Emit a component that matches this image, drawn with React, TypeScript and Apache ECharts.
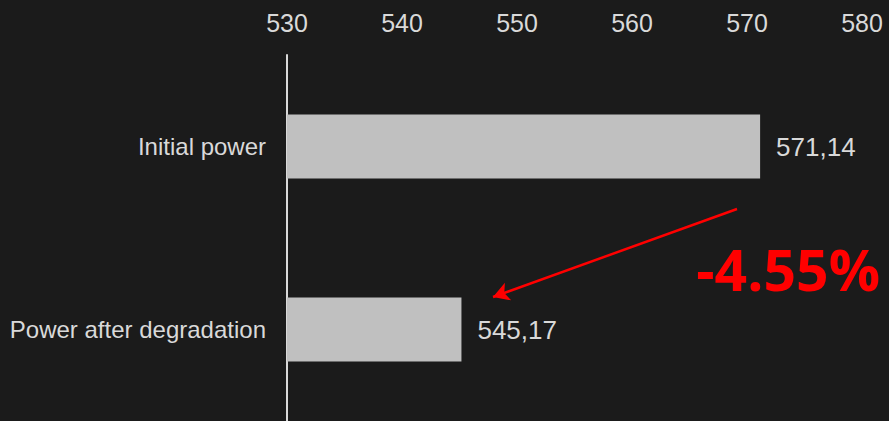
import React, { useEffect, useRef } from "react";
import * as echarts from "echarts";

const categories = ["Initial power", "Power after degradation"];
const values = [571.14, 545.17];
const axisMin = 530;
const axisMax = 580;
const axisStep = 10;
const changeLabel = "-4.55%";

export default function App() {
  const ref = useRef<HTMLDivElement>(null);
  useEffect(() => {
    if (!ref.current) return;
    const chart = echarts.init(ref.current, null, { renderer: "svg" });
    const font = "'Liberation Sans', Arial, sans-serif";
    chart.setOption({
      animation: false,
      backgroundColor: "#1b1b1b",
      grid: { left: 287, right: 27, top: 55, height: 368, containLabel: false },
      xAxis: {
        type: "value",
        position: "top",
        min: axisMin,
        max: axisMax,
        interval: axisStep,
        axisLine: { show: false },
        axisTick: { show: false },
        splitLine: { show: false },
        axisLabel: { color: "#d9d9d9", fontSize: 25, fontFamily: font, margin: 20 },
      },
      yAxis: {
        type: "category",
        inverse: true,
        data: categories,
        axisLine: { show: true, lineStyle: { color: "#d9d9d9", width: 2 } },
        axisTick: { show: false },
        axisLabel: { color: "#d9d9d9", fontSize: 24, fontFamily: font, margin: 21 },
      },
      series: [
        {
          type: "bar",
          data: values,
          barWidth: "35%",
          itemStyle: { color: "#c0c0c0" },
          label: {
            show: true,
            position: "right",
            distance: 16,
            color: "#d9d9d9",
            fontSize: 26,
            fontFamily: font,
            formatter: (p: any) => Number(p.value).toFixed(2).replace(".", ","),
          },
          markLine: {
            silent: true,
            animation: false,
            label: { show: false },
            lineStyle: { color: "#ff0000", width: 2.5, type: "solid" },
            symbolSize: [14, 16],
            data: [
              [
                { x: 737, y: 209, symbol: "none" },
                { x: 493, y: 297, symbol: "arrow" },
              ],
            ],
          },
        },
      ],
      graphic: [
        {
          type: "text",
          right: 9,
          top: 240,
          style: {
            text: changeLabel,
            fill: "#ff0000",
            font: "bold 57px 'Open Sans', 'Noto Sans', sans-serif",
          },
        },
      ],
    });
    return () => chart.dispose();
  }, []);
  return <div ref={ref} style={{ width: 889, height: 421, position: "absolute", left: 0, top: 0 }} />;
}
